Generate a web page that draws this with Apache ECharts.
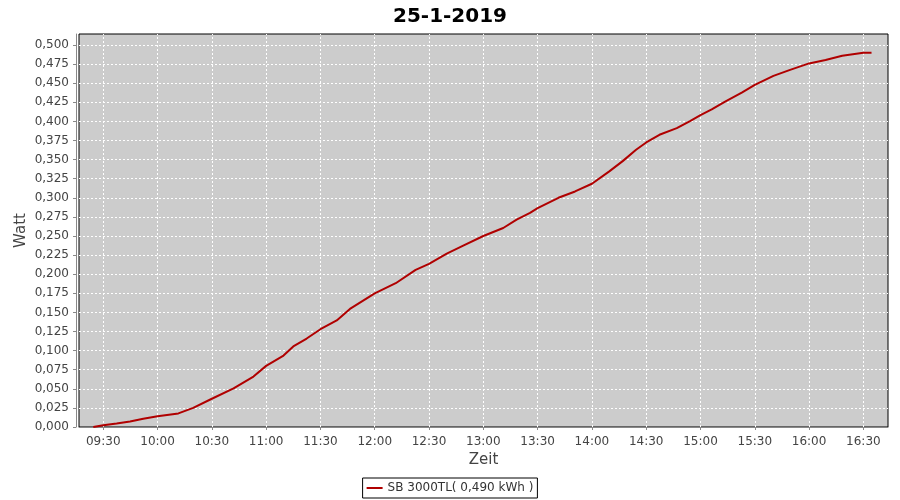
<!DOCTYPE html>
<html>
<head>
<meta charset="utf-8">
<script src="https://cdn.jsdelivr.net/npm/echarts@6/dist/echarts.min.js"></script>
<style>html,body{margin:0;padding:0;background:#fff}#c{width:900px;height:500px}</style>
</head>
<body>
<div id="c"></div>
<script>
// Data
var times = ["09:24:30","09:30:00","09:37:24","09:44:48","09:52:06","10:00:00","10:11:30","10:19:42","10:30:00","10:42:00","10:53:00","11:00:00","11:09:36","11:15:00","11:22:24","11:30:00","11:39:00","11:46:18","12:00:00","12:11:36","12:22:36","12:30:00","12:39:48","12:48:54","13:00:00","13:11:00","13:18:24","13:25:48","13:30:00","13:41:30","13:50:42","14:00:00","14:09:36","14:17:00","14:24:24","14:30:00","14:37:18","14:46:54","14:54:12","15:00:00","15:06:12","15:13:36","15:22:48","15:30:00","15:40:18","15:49:30","16:00:00","16:09:06","16:18:18","16:30:00","16:34:30"];
var values = [0.0000,0.0022,0.0047,0.0073,0.0108,0.0140,0.0178,0.0250,0.0370,0.0505,0.0660,0.0800,0.0935,0.1055,0.1158,0.1280,0.1395,0.1545,0.1750,0.1882,0.2057,0.2136,0.2268,0.2373,0.2500,0.2605,0.2715,0.2802,0.2864,0.3000,0.3083,0.3184,0.3346,0.3480,0.3629,0.3724,0.3825,0.3912,0.4005,0.4083,0.4157,0.4259,0.4377,0.4478,0.4596,0.4675,0.4759,0.4803,0.4860,0.4899,0.4900];
var xTickLabels = ["09:30","10:00","10:30","11:00","11:30","12:00","12:30","13:00","13:30","14:00","14:30","15:00","15:30","16:00","16:30"];
var seriesName = "SB 3000TL( 0,490 kWh )";
var chartTitle = "25-1-2019";

function toMin(s){var p=s.split(":");return (+p[0])*60+(+p[1])+(p[2]?(+p[2])/60:0);}
function fmt(m){var h=Math.floor(m/60+1e-9),mm=Math.round(m-h*60);return (h<10?"0":"")+h+":"+(mm<10?"0":"")+mm;}
var xTicks = xTickLabels.map(toMin);
var data = times.map(function(t,i){return [toMin(t),values[i]];});

var FONT = "DejaVu Sans";
var chart = echarts.init(document.getElementById('c'), null, {renderer:'canvas'});
chart.setOption({
  animation:false,
  backgroundColor:'#ffffff',
  textStyle:{fontFamily:FONT},
  title:{text:chartTitle,left:'center',top:2,textStyle:{fontFamily:FONT,fontSize:20,fontWeight:'bold',color:'#000'}},
  legend:{bottom:2,left:'center',orient:'horizontal',padding:[4,4],itemWidth:16,itemHeight:2,
    borderColor:'#000',borderWidth:1,borderRadius:0,
    textStyle:{fontFamily:FONT,fontSize:12,color:'#333'},
    data:[{name:seriesName,icon:'rect',itemStyle:{color:'#b00000'}}]},
  grid:{left:79,right:12,top:34,bottom:73,show:true,backgroundColor:'#cccccc',borderColor:'#000',borderWidth:1,outerBoundsMode:'none'},
  xAxis:{type:'value',min:556.6,max:1003.6,offset:5,name:'Zeit',nameLocation:'middle',nameGap:21,nameMoveOverlap:false,
    nameTextStyle:{fontFamily:FONT,fontSize:15,color:'#444'},
    axisLine:{show:true,lineStyle:{color:'#888',width:1}},
    axisTick:{show:true,length:3,customValues:xTicks,lineStyle:{color:'#888'}},
    axisLabel:{customValues:xTicks,margin:4,fontFamily:FONT,fontSize:12,color:'#444',formatter:function(v){return fmt(v);}},
    splitLine:{show:false}},
  yAxis:{type:'value',min:0,max:0.5144,interval:0.025,offset:3,name:'Watt',nameLocation:'middle',nameGap:47,nameMoveOverlap:false,
    nameTextStyle:{fontFamily:FONT,fontSize:15,color:'#444'},
    axisLine:{show:true,lineStyle:{color:'#888',width:1}},
    axisTick:{show:true,length:3,lineStyle:{color:'#888'}},
    axisLabel:{margin:7,fontFamily:FONT,fontSize:12,color:'#444',showMaxLabel:false,
      formatter:function(v){return v.toFixed(3).replace('.',',');}},
    splitLine:{show:true,showMinLine:false,showMaxLine:false,lineStyle:{color:'#ffffff',type:[2,2],width:1}}},
  series:[{name:seriesName,type:'line',data:data,symbol:'none',z:3,
    lineStyle:{color:'#b00000',width:2},itemStyle:{color:'#b00000'},
    markLine:{silent:true,symbol:'none',z:1,label:{show:false},animation:false,
      lineStyle:{color:'#ffffff',type:[2,2],width:1},
      data:xTicks.map(function(v){return {xAxis:v};})}}]
});
</script>
</body>
</html>
